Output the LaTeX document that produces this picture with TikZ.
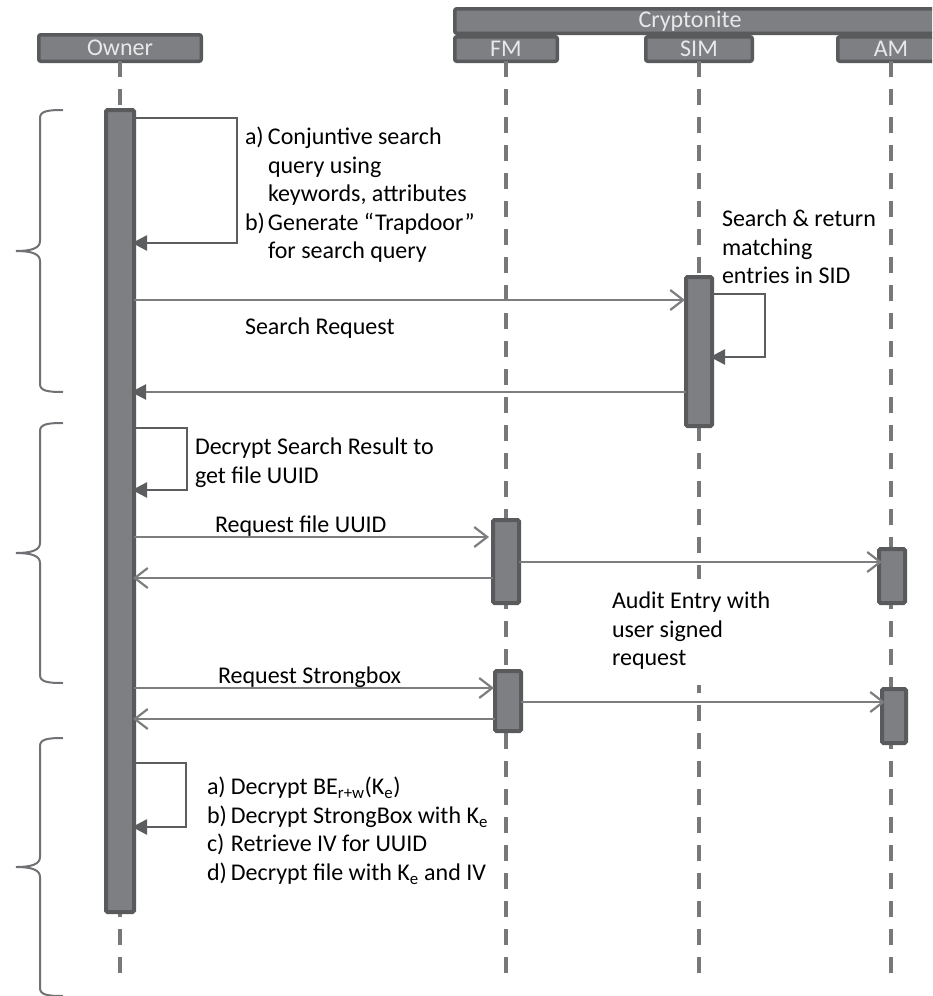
\documentclass[tikz,border=0pt]{standalone}
\usepackage{fontspec}
\setmainfont{Carlito}
\usetikzlibrary{arrows.meta}
\definecolor{actfill}{RGB}{126,127,131}
\definecolor{actdraw}{RGB}{89,90,92}
\definecolor{lifec}{RGB}{120,120,123}
\definecolor{msgc}{RGB}{125,125,127}
\definecolor{loopc}{RGB}{92,93,95}
\definecolor{bracec}{RGB}{112,113,117}
\definecolor{hdrtext}{RGB}{232,232,232}
\begin{document}
\begin{tikzpicture}[x=1pt,y=-1pt,
 hdr/.style={rectangle, rounded corners=2pt, draw=actdraw, line width=3.5pt, fill=actfill, text=hdrtext, inner sep=0pt, outer sep=0pt, font=\fontsize{24}{28}\selectfont},
 act/.style={rectangle, rounded corners=1.5pt, draw=actdraw, line width=4pt, fill=actfill, inner sep=0pt, outer sep=0pt, minimum width=26pt},
 life/.style={draw=lifec, line width=3.5pt, dash pattern=on 16pt off 12pt},
 msg/.style={draw=msgc, line width=2.2pt, -{Straight Barb[length=13pt,width=20pt,line width=2.2pt]}},
 ret/.style={draw=msgc, line width=2.2pt, -{Triangle[length=15pt,width=15pt,color=loopc]}},
 selfl/.style={draw=loopc, line width=2.5pt, -{Triangle[length=15pt,width=15pt,color=loopc]}},
 brc/.style={draw=bracec, line width=2pt},
 txt/.style={inner sep=0pt, outer sep=0pt, anchor=north west, font=\fontsize{24}{28.5}\selectfont},
 lbl/.style={inner sep=0pt, outer sep=0pt, anchor=base west, font=\fontsize{24}{28.5}\selectfont}
]
\useasboundingbox (0,0) rectangle (932,996);
\clip (0,0) rectangle (932,996);
% headers
\node[hdr, minimum width=162.5pt, minimum height=26.5pt] (ownerh) at (120,48) {Owner};
\node[hdr, minimum width=102.5pt, minimum height=24.5pt] (fmh) at (506,49) {FM};
\node[hdr, minimum width=106.5pt, minimum height=24.5pt] (simh) at (699,49) {SIM};
\node[hdr, minimum width=106.5pt, minimum height=24.5pt] (amh) at (891,49) {AM};
\node[hdr, minimum width=503.5pt, minimum height=24.5pt] (crypt) at (706.5,21) {\hspace*{-33pt}Cryptonite};
% lifeline ends
\coordinate (oend) at (120,975);
\coordinate (fend) at (506,975);
\coordinate (send) at (699,975);
\coordinate (aend) at (891,975);
\draw[life] (ownerh.south) -- (oend);
\draw[life] (fmh.south) -- (fend);
\draw[life] (simh.south) -- (send);
\draw[life] (amh.south) -- (aend);
% activations
\node[act, minimum width=28pt, minimum height=802pt] (oa) at (120,511) {};
\node[act, minimum height=149pt] (sa) at (699,351.5) {};
\node[act, minimum height=83pt] (f1) at (506,561.5) {};
\node[act, minimum height=60pt] (f2) at (508,701) {};
\node[act, minimum height=54pt] (a1) at (892,576) {};
\node[act, minimum width=24pt, minimum height=54pt] (a2) at (894,716) {};
% self loops
\draw[selfl, shorten >=-2pt] (oa.east |- 0,118) -| (237,243) -- (oa.east |- 0,243);
\draw[selfl, shorten >=-2pt] (sa.east |- 0,294) -| (765,357) -- (sa.east |- 0,357);
\draw[selfl, shorten >=-2pt] (oa.east |- 0,428) -| (187,490) -- (oa.east |- 0,490);
\draw[selfl, shorten >=-2pt] (oa.east |- 0,763) -| (186,827) -- (oa.east |- 0,827);
% messages
\draw[msg, shorten >=1pt] (oa.east |- 0,300) -- (sa.west |- 0,300);
\draw[ret, shorten >=-3pt] (sa.west |- 0,392) -- (oa.east |- 0,392);
\draw[msg, shorten >=4pt] (oa.east |- 0,537) -- (f1.west |- 0,537);
\draw[msg, shorten >=-1pt] (f1.west |- 0,578) -- (oa.east |- 0,578);
\draw[msg, shorten >=-3pt] (f1.east |- 0,562) -- (a1.west |- 0,562);
\draw[msg, shorten >=1pt] (oa.east |- 0,688) -- (f2.west |- 0,688);
\draw[msg, shorten >=-1pt] (f2.west |- 0,719) -- (oa.east |- 0,719);
\draw[msg, shorten >=-3pt] (f2.east |- 0,702) -- (a2.west |- 0,702);
% braces
\draw[brc] (63,110) .. controls (48,110) and (40,111) .. (40,118) -- (40,241) .. controls (40,248) and (32,251) .. (16,251) .. controls (32,251) and (40,254) .. (40,261) -- (40,384) .. controls (40,391) and (48,392) .. (63,392);
\draw[brc] (63,423) .. controls (48,423) and (40,424) .. (40,431) -- (40,543) .. controls (40,550) and (32,553) .. (16,553) .. controls (32,553) and (40,556) .. (40,563) -- (40,675) .. controls (40,682) and (48,683) .. (63,683);
\draw[brc] (63,738) .. controls (48,738) and (40,739) .. (40,746) -- (40,857) .. controls (40,864) and (32,867) .. (16,867) .. controls (32,867) and (40,870) .. (40,877) -- (40,988) .. controls (40,995) and (48,996) .. (63,996);
% texts
\node[txt] (t1) at (245,125) {\begin{tabular}{@{}p{23pt}@{}l@{}}a)&Conjuntive search\\&query using\\&keywords, attributes\\b)&Generate “Trapdoor”\\&for search query\end{tabular}};
\node[txt] (tsim) at (722,207) {\begin{tabular}{@{}l@{}}Search \& return\\matching\\entries in SID\end{tabular}};
\node[txt] (t2) at (195,435) {\begin{tabular}{@{}l@{}}Decrypt Search Result to\\get file UUID\end{tabular}};
\node[txt, fill=white, inner xsep=6pt, inner ysep=10pt] (taudit) at (606,579) {\begin{tabular}{@{}l@{}}Audit Entry with\\user signed\\request\end{tabular}};
\node[txt] (t3) at (207,775) {\begin{tabular}{@{}p{24pt}@{}l@{}}a)&Decrypt BE\textsubscript{r+w}(K\textsubscript{e})\\b)&Decrypt StrongBox with K\textsubscript{e}\\c)&Retrieve IV for UUID\\d)&Decrypt file with K\textsubscript{e} and IV\end{tabular}};
\node[lbl] (lsr) at (245,334) {Search Request};
\node[lbl] (lrf) at (215,532) {Request file UUID};
\node[lbl] (lrs) at (218,683) {Request Strongbox};
\end{tikzpicture}
\end{document}
